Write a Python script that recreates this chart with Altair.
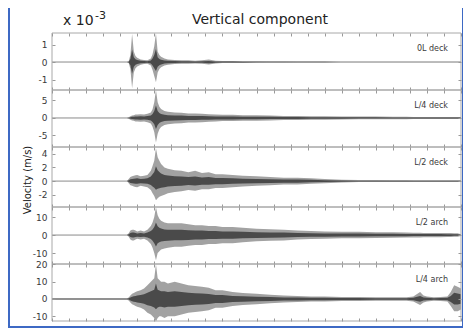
import altair as alt
import pandas as pd

# time axis (s) of the sampled envelope points
TIME = [0, 22, 22.5, 23, 23.5, 24, 24.5, 25, 26, 27, 28, 29, 29.5, 30, 30.5, 31, 31.5, 32,
        33, 34, 36, 38, 40, 42, 44, 46, 48, 50, 53, 56, 60, 64, 68, 72, 76, 80, 85, 90,
        95, 100, 104, 106, 108, 109, 110, 112, 114, 116, 117, 118, 119, 120]

PANEL_NAMES = ["0L deck", "L/4 deck", "L/2 deck", "L/2 arch", "L/4 arch"]

# velocity peaks (x 10^-3 m/s), upper and lower envelope
P1_UP = [0, 0, 0.05, 0.4, 1.6, 0.6, 0.35, 0.25, 0.15, 0.12, 0.1, 0.2, 0.45, 0.9, 1.65, 0.6, 0.4, 0.3,
         0.2, 0.15, 0.12, 0.1, 0.1, 0.08, 0.1, 0.14, 0.08, 0.06, 0.06, 0.05, 0.04, 0.03, 0.03, 0.02, 0.02, 0.02, 0.01, 0.01,
         0.01, 0.01, 0.01, 0.01, 0.01, 0.01, 0.01, 0.01, 0.01, 0.01, 0.01, 0.01, 0.01, 0.01]
P1_DN = [0, 0, -0.05, -0.4, -1.5, -0.6, -0.35, -0.25, -0.15, -0.12, -0.1, -0.2, -0.45, -0.8, -1.15, -0.6, -0.4, -0.3,
         -0.2, -0.15, -0.12, -0.1, -0.1, -0.08, -0.1, -0.14, -0.08, -0.06, -0.06, -0.05, -0.04, -0.03, -0.03, -0.02, -0.02, -0.02, -0.01, -0.01,
         -0.01, -0.01, -0.01, -0.01, -0.01, -0.01, -0.01, -0.01, -0.01, -0.01, -0.01, -0.01, -0.01, -0.01]

P2_UP = [0, 0, 0.2, 0.5, 0.7, 0.8, 1.0, 1.0, 1.1, 1.0, 1.2, 1.6, 2.5, 4.5, 8.0, 4.5, 3.2, 2.6,
         2.0, 1.8, 1.6, 1.5, 1.3, 1.3, 1.2, 1.1, 1.0, 0.9, 0.9, 0.8, 0.8, 0.7, 0.6, 0.6, 0.5, 0.5, 0.45, 0.4,
         0.4, 0.35, 0.35, 0.3, 0.3, 0.3, 0.3, 0.3, 0.3, 0.3, 0.3, 0.3, 0.3, 0.3]
P2_DN = [0, 0, -0.2, -0.5, -0.7, -0.8, -1.0, -1.0, -1.1, -1.0, -1.2, -1.6, -2.5, -4.0, -7.0, -4.5, -3.2, -2.6,
         -2.0, -1.8, -1.6, -1.5, -1.3, -1.3, -1.2, -1.1, -1.0, -0.9, -0.9, -0.8, -0.8, -0.7, -0.6, -0.6, -0.5, -0.5, -0.45, -0.4,
         -0.4, -0.35, -0.35, -0.3, -0.3, -0.3, -0.3, -0.3, -0.3, -0.3, -0.3, -0.3, -0.3, -0.3]

P3_UP = [0, 0, 0.3, 0.6, 0.7, 0.8, 0.85, 0.9, 0.7, 0.8, 0.9, 1.5, 2.2, 3.0, 4.8, 3.5, 3.0, 2.5,
         2.0, 1.8, 1.6, 1.5, 1.3, 1.5, 1.2, 1.3, 1.0, 1.0, 0.9, 0.8, 0.7, 0.6, 0.5, 0.5, 0.4, 0.3, 0.2, 0.15,
         0.15, 0.12, 0.12, 0.1, 0.1, 0.1, 0.1, 0.1, 0.1, 0.1, 0.1, 0.1, 0.1, 0.1]
P3_DN = [0, 0, -0.3, -0.6, -0.7, -0.8, -0.85, -0.9, -0.7, -0.8, -0.9, -1.3, -1.8, -2.2, -2.8, -2.5, -2.3, -2.2,
         -2.0, -1.8, -1.6, -1.5, -1.3, -1.4, -1.2, -1.2, -1.0, -1.0, -0.9, -0.8, -0.7, -0.6, -0.5, -0.5, -0.4, -0.3, -0.2, -0.15,
         -0.15, -0.12, -0.12, -0.1, -0.1, -0.1, -0.1, -0.1, -0.1, -0.1, -0.1, -0.1, -0.1, -0.1]

P4_UP = [0, 0, 1.0, 2.5, 3.0, 3.0, 2.5, 2.0, 2.5, 2.0, 3.0, 5.0, 7.0, 10.0, 15.5, 11.0, 9.0, 8.0,
         7.0, 6.5, 6.5, 6.5, 6.0, 5.5, 5.5, 5.0, 5.0, 4.5, 4.5, 4.0, 3.5, 3.2, 3.0, 2.5, 2.2, 2.0, 1.8, 1.8,
         1.6, 1.5, 1.4, 1.3, 1.3, 1.2, 1.2, 1.2, 1.2, 1.1, 1.1, 1.0, 1.0, 0.5]
P4_DN = [0, 0, -1.0, -2.5, -3.0, -3.0, -2.5, -2.0, -2.5, -2.0, -3.0, -5.0, -7.0, -10.0, -14.0, -10.0, -9.0, -8.0,
         -7.5, -7.0, -6.5, -6.5, -6.0, -5.5, -5.5, -5.0, -5.0, -4.5, -4.5, -4.0, -3.5, -3.2, -3.0, -2.5, -2.2, -2.0, -1.8, -1.8,
         -1.6, -1.5, -1.4, -1.3, -1.3, -1.2, -1.2, -1.2, -1.2, -1.1, -1.1, -1.0, -1.0, -0.5]

P5_UP = [0.4, 0.4, 0.8, 2.0, 3.0, 3.5, 4.0, 4.5, 5.0, 6.0, 8.0, 10.0, 11.0, 12.0, 20.0, 12.0, 11.0, 10.0,
         10.0, 9.0, 10.0, 9.0, 8.0, 7.5, 7.0, 6.5, 5.0, 5.0, 4.0, 3.5, 3.0, 2.5, 2.0, 1.8, 1.5, 1.5, 1.2, 1.2,
         1.0, 1.0, 1.0, 1.5, 4.0, 2.0, 1.5, 1.0, 1.2, 1.5, 4.0, 8.0, 7.0, 6.0]
P5_DN = [-0.4, -0.4, -0.8, -2.0, -3.0, -3.5, -4.0, -4.5, -5.0, -6.0, -8.0, -9.0, -10.0, -11.0, -13.0, -11.0, -10.0, -10.0,
         -11.0, -10.0, -10.0, -9.0, -8.0, -7.5, -7.0, -6.5, -5.0, -5.0, -4.0, -3.5, -3.0, -2.5, -2.0, -1.8, -1.5, -1.5, -1.2, -1.2,
         -1.0, -1.0, -1.0, -1.5, -3.5, -2.0, -1.5, -1.0, -1.2, -1.5, -4.0, -7.0, -7.0, -6.0]

UPS = [P1_UP, P2_UP, P3_UP, P4_UP, P5_UP]
DNS = [P1_DN, P2_DN, P3_DN, P4_DN, P5_DN]

Y_DOMAINS = [[-1.6, 1.66], [-8.3, 8.0], [-3.8, 5.0], [-16.1, 15.6], [-12.7, 20.2]]
Y_TICKS = [[-1, 0, 1], [-5, 0, 5], [-2, 0, 2, 4], [-10, 0, 10], [-10, 0, 10, 20]]
X_TICKS = [0, 5, 10, 15, 20, 25, 30, 35, 40, 45, 50, 55, 60, 65, 70, 75, 80, 85, 90, 95, 100, 105, 110, 115, 120]

HEIGHTS = [57, 57, 60, 57, 57]
W = 409
FONT = "DejaVu Sans"
BLUE = "#3d69c4"
TICK = "#999999"
BOX = "#a8a8a8"
LABEL = "#3a3a3a"

for a, b in zip(UPS, DNS):
    assert len(a) == len(TIME) and len(b) == len(TIME)

one = pd.DataFrame({"z": [0]})


def make_panel(i):
    h = HEIGHTS[i]
    df = pd.DataFrame({"t": TIME, "up": UPS[i], "dn": DNS[i]})
    xs = alt.Scale(domain=[0, 120], nice=False, zero=False)
    ys = alt.Scale(domain=Y_DOMAINS[i], nice=False, zero=False)
    xaxis = alt.Axis(orient="bottom", values=X_TICKS, labels=False, tickSize=3, offset=-3,
                     domain=False, grid=False, title=None, tickColor=TICK, zindex=1)
    yaxis = alt.Axis(orient="left", values=Y_TICKS[i], tickSize=3, offset=-3, labelPadding=5,
                     domain=False, grid=False, title=None, tickColor=TICK, labelColor=LABEL,
                     labelFontSize=9, labelFont=FONT, labelExpr="'' + datum.value", zindex=1)
    top_axis = alt.Axis(orient="top", values=X_TICKS, labels=False, tickSize=3, offset=-3,
                        domain=False, grid=False, title=None, tickColor=TICK, zindex=1)
    right_axis = alt.Axis(orient="right", values=Y_TICKS[i], labels=False, tickSize=3, offset=-3,
                          domain=False, grid=False, title=None, tickColor=TICK, zindex=1)

    layers = []
    if i == 0:
        layers.append(alt.Chart(one).mark_rect(color="white", strokeWidth=0).encode(
            x=alt.value(-42), x2=alt.value(410), y=alt.value(-25), y2=alt.value(293)))
        layers.append(alt.Chart(one).mark_text(text="Vertical component", font=FONT, fontSize=14,
                                               color="#222222", align="center", baseline="alphabetic").encode(
            x=alt.value(208), y=alt.value(-9)))
        layers.append(alt.Chart(one).mark_text(text="x 10", font=FONT, fontSize=14,
                                               color="#222222", align="left", baseline="alphabetic").encode(
            x=alt.value(11), y=alt.value(-8)))
        layers.append(alt.Chart(one).mark_text(text="-3", font=FONT, fontSize=11,
                                               color="#222222", align="left", baseline="alphabetic").encode(
            x=alt.value(43), y=alt.value(-14)))
    if i == 2:
        layers.append(alt.Chart(one).mark_text(text="Velocity (m/s)", font=FONT, fontSize=10, angle=270,
                                               color="#222222", align="center", baseline="middle").encode(
            x=alt.value(-24), y=alt.value(33)))

    layers.append(alt.Chart(one).mark_rule(color="#8a8a8a", strokeWidth=1).encode(
        y=alt.Y("z:Q", scale=ys, axis=None)))
    layers.append(alt.Chart(df).mark_area(color="#a2a2a2", interpolate="linear").encode(
        x=alt.X("t:Q", scale=xs, axis=xaxis),
        y=alt.Y("dn:Q", scale=ys, axis=yaxis),
        y2="up:Q"))
    layers.append(alt.Chart(df).transform_calculate(u="datum.up*0.45", d="datum.dn*0.45").mark_area(
        color="#4a4a4a", interpolate="linear").encode(
        x=alt.X("t:Q", axis=None),
        y=alt.Y("d:Q", axis=None),
        y2="u:Q"))
    layers.append(alt.Chart(one).mark_point(opacity=0).encode(
        x=alt.X("z:Q", axis=top_axis),
        y=alt.Y("z:Q", axis=right_axis)))
    layers.append(alt.Chart(one).mark_rect(fillOpacity=0, stroke=BOX, strokeWidth=1).encode(
        x=alt.value(0), x2=alt.value(W), y=alt.value(0), y2=alt.value(h)))
    layers.append(alt.Chart(pd.DataFrame({"n": [PANEL_NAMES[i]]})).mark_text(
        font=FONT, fontSize=8, color=LABEL, align="right", baseline="middle").encode(
        x=alt.value(396), y=alt.value(16), text="n:N"))

    return alt.layer(*layers).resolve_axis(x="independent", y="independent").properties(width=W, height=h)


chart = alt.vconcat(*[make_panel(i) for i in range(5)], spacing=0, bounds="flush").properties(
    background=BLUE,
    padding={"left": 2, "right": 1, "top": 0, "bottom": 2},
).configure_view(stroke=None)

chart.save("out.html", embed_options={"renderer": "svg", "actions": False})
